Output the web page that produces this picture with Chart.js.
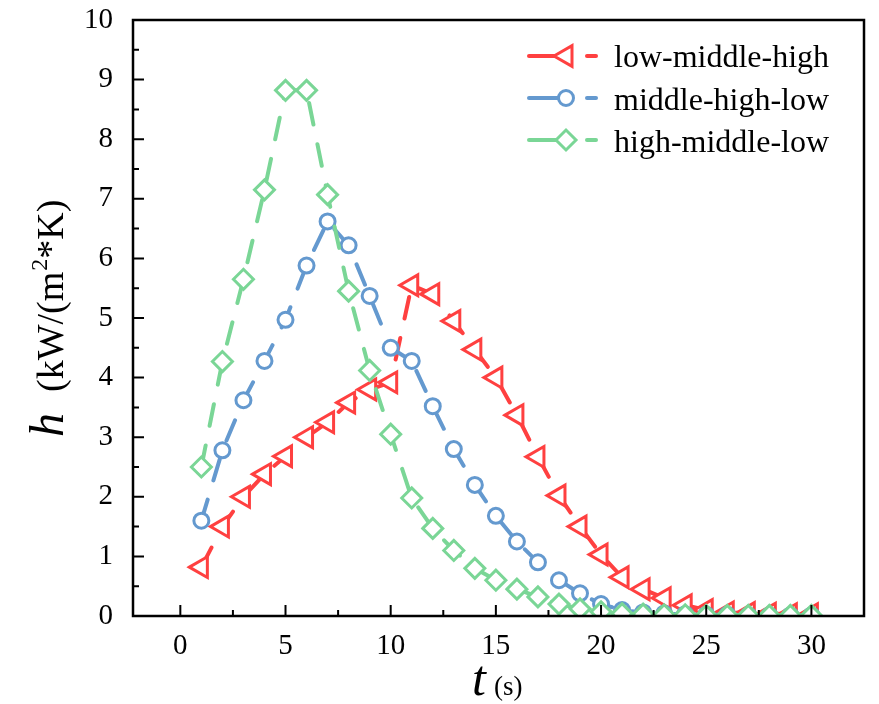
<!DOCTYPE html>
<html>
<head>
<meta charset="utf-8">
<script src="https://cdn.jsdelivr.net/npm/chart.js@4"></script>
<style>
html,body{margin:0;padding:0;background:#fff;}
#wrap{width:879px;height:704px;position:relative;}
</style>
</head>
<body>
<div id="wrap"><canvas id="c" width="879" height="704"></canvas></div>
<script>
const timeS = [1,2,3,4,5,6,7,8,9,10,11,12,13,14,15,16,17,18,19,20,21,22,23,24,25,26,27,28,29,30];
const lowMiddleHigh = [0.82,1.5,2.0,2.38,2.68,3.0,3.25,3.58,3.8,3.92,5.55,5.4,4.95,4.47,4.0,3.37,2.67,2.02,1.5,1.03,0.65,0.45,0.3,0.18,0.1,0.06,0.05,0.04,0.03,0.03];
const middleHighLow = [1.6,2.78,3.62,4.28,4.97,5.88,6.62,6.22,5.37,4.5,4.28,3.52,2.8,2.2,1.68,1.25,0.9,0.6,0.38,0.2,0.1,0.06,0.04,0.03,0.02,0.02,0.01,0.01,0.01,0.01];
const highMiddleLow = [2.5,4.27,5.65,7.15,8.82,8.82,7.07,5.45,4.12,3.05,1.98,1.47,1.1,0.8,0.6,0.45,0.32,0.2,0.12,0.07,0.04,0.03,0.02,0.02,0.01,0.01,0.01,0.01,0.01,0.01];
const seriesNames = ['low-middle-high','middle-high-low','high-middle-low'];
const xTicks = [0,5,10,15,20,25,30];
const yTicks = [0,1,2,3,4,5,6,7,8,9,10];

const RED = 'rgb(255,64,64)';
const BLUE = 'rgb(100,153,207)';
const GREEN = 'rgb(122,214,150)';
const SERIF = '"Liberation Serif","Times New Roman",serif';

function pts(ys){ return timeS.map((t,i)=>({x:t,y:ys[i]})); }

function ds(label, ys, color, style, radius, rot, order){
  return {
    label, data: pts(ys), borderColor: color, backgroundColor: '#fff',
    borderWidth: 4, borderDash: [22, 20], borderCapStyle: 'round',
    pointStyle: style, pointRadius: radius, pointHoverRadius: radius,
    pointBorderWidth: 3, pointBorderColor: color, pointBackgroundColor: '#fff',
    pointRotation: rot, tension: 0, clip: 0, order
  };
}

function drawMarker(ctx, style, x, y, r, color){
  ctx.save();
  ctx.strokeStyle = color; ctx.fillStyle = '#fff'; ctx.lineWidth = 3;
  ctx.beginPath();
  if (style === 'triangle') {
    ctx.moveTo(x - r, y);
    ctx.lineTo(x + r*0.5, y - r*Math.sin(Math.PI/3));
    ctx.lineTo(x + r*0.5, y + r*Math.sin(Math.PI/3));
    ctx.closePath();
  } else if (style === 'circle') {
    ctx.arc(x, y, r, 0, Math.PI*2);
  } else {
    ctx.moveTo(x - r, y); ctx.lineTo(x, y - r); ctx.lineTo(x + r, y); ctx.lineTo(x, y + r); ctx.closePath();
  }
  ctx.fill(); ctx.stroke();
  ctx.restore();
}

const framePlugin = {
  id: 'framePlugin',
  afterDraw(chart){
    const {ctx, chartArea: a, scales} = chart;
    const xs = scales.x, ys = scales.y;
    ctx.save();
    ctx.strokeStyle = '#000';
    ctx.lineWidth = 2;
    ctx.beginPath();
    for (let v = 0; v <= 30.001; v += 2.5) {
      const px = xs.getPixelForValue(v);
      const len = (Math.abs(v % 5) < 0.01) ? 11 : 6;
      ctx.moveTo(px, a.bottom); ctx.lineTo(px, a.bottom - len);
    }
    for (let v = 0; v <= 10.001; v += 0.5) {
      const py = ys.getPixelForValue(v);
      const len = (Math.abs(v - Math.round(v)) < 0.01) ? 11 : 6;
      ctx.moveTo(a.left, py); ctx.lineTo(a.left + len, py);
    }
    ctx.stroke();
    ctx.lineWidth = 2.5;
    ctx.strokeRect(a.left, a.top, a.right - a.left, a.bottom - a.top);

    ctx.fillStyle = '#000';
    ctx.save();
    ctx.translate(63, 437);
    ctx.rotate(-Math.PI/2);
    ctx.textBaseline = 'alphabetic'; ctx.textAlign = 'left';
    ctx.font = 'italic 48px ' + SERIF;
    ctx.fillText('h', 0, 0);
    let xo = 45;
    ctx.font = '38px ' + SERIF;
    ctx.fillText('(kW/(m', xo, 0);
    xo += ctx.measureText('(kW/(m').width;
    ctx.font = '24px ' + SERIF;
    ctx.fillText('2', xo + 1, -16);
    xo += ctx.measureText('2').width + 1;
    ctx.font = '38px ' + SERIF;
    ctx.fillText('*K)', xo, 0);
    ctx.restore();

    ctx.textBaseline = 'alphabetic'; ctx.textAlign = 'left';
    ctx.font = 'italic 50px ' + SERIF;
    ctx.fillText('t', 472, 695);
    ctx.font = '27px ' + SERIF;
    ctx.fillText('(s)', 494, 695);

    const cols = [RED, BLUE, GREEN];
    const styles = ['triangle','circle','rectRot'];
    const radii = [12, 7.5, 10];
    const lineY = [56, 98, 140];
    const baseY = [67, 110, 152];
    for (let i = 0; i < 3; i++) {
      ctx.strokeStyle = cols[i]; ctx.lineWidth = 4; ctx.lineCap = 'round';
      ctx.beginPath(); ctx.moveTo(529, lineY[i]); ctx.lineTo(560, lineY[i]); ctx.stroke();
      drawMarker(ctx, styles[i], 566, lineY[i], radii[i], cols[i]);
      ctx.strokeStyle = cols[i]; ctx.lineWidth = 4;
      ctx.beginPath(); ctx.moveTo(587, lineY[i]); ctx.lineTo(596, lineY[i]); ctx.stroke();
      ctx.fillStyle = '#000';
      ctx.font = '32px ' + SERIF;
      ctx.fillText(seriesNames[i], 614, baseY[i]);
    }
    ctx.restore();
  }
};

new Chart(document.getElementById('c'), {
  type: 'line',
  data: {
    datasets: [
      ds(seriesNames[0], lowMiddleHigh, RED, 'triangle', 12, -90, 3),
      ds(seriesNames[1], middleHighLow, BLUE, 'circle', 7.5, 0, 2),
      ds(seriesNames[2], highMiddleLow, GREEN, 'rectRot', 10, 0, 1)
    ]
  },
  options: {
    responsive: false, animation: false,
    layout: { padding: { left: 0, top: 20, right: 13, bottom: 0 } },
    plugins: { legend: { display: false }, tooltip: { enabled: false } },
    scales: {
      x: {
        type: 'linear', min: -2.25, max: 32.5,
        afterBuildTicks(s){ s.ticks = xTicks.map(v=>({value:v})); },
        afterFit(s){ s.height = 88; s.paddingLeft = 0; s.paddingRight = 0; },
        grid: { display: false, drawTicks: false },
        border: { display: false },
        ticks: { color: '#000', font: { family: SERIF, size: 29 }, padding: 13, maxRotation: 0, autoSkip: false }
      },
      y: {
        type: 'linear', min: 0, max: 10,
        afterBuildTicks(s){ s.ticks = yTicks.map(v=>({value:v})); },
        afterFit(s){ s.width = 133; s.paddingTop = 0; s.paddingBottom = 0; },
        grid: { display: false, drawTicks: false },
        border: { display: false },
        ticks: { color: '#000', font: { family: SERIF, size: 29 }, padding: 20, autoSkip: false }
      }
    }
  },
  plugins: [framePlugin]
});
</script>
</body>
</html>
